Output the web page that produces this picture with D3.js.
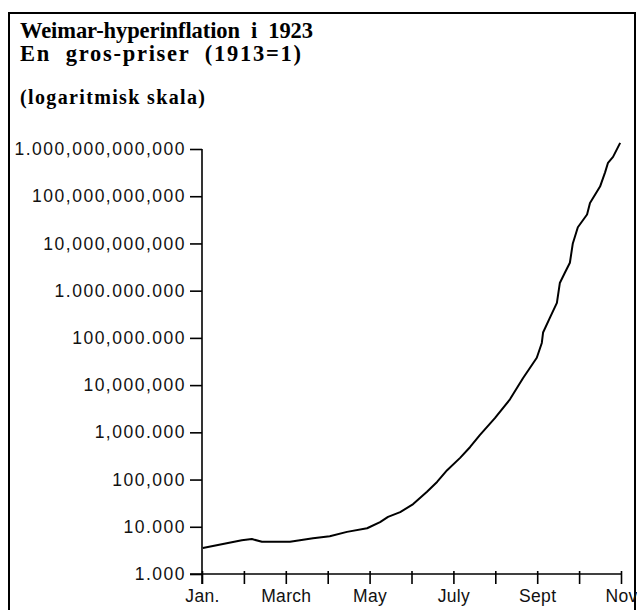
<!DOCTYPE html>
<html><head><meta charset="utf-8">
<script src="https://cdn.jsdelivr.net/npm/d3@7"></script>
<style>
html,body{margin:0;padding:0;background:#fff;}
svg{display:block;}
</style></head>
<body>
<svg id="chart" width="637" height="610"></svg>
<script>
// Data: month position (0 = 1 Jan, 10 = 1 Nov 1923) and wholesale price index (1913 = 1)
const monthPos = [0.02,0.95,1.19,1.43,2.10,2.65,3.05,3.46,3.94,4.25,4.44,4.73,5.04,5.37,5.61,5.85,6.16,6.40,6.63,6.99,7.35,7.66,7.99,8.11,8.14,8.31,8.47,8.54,8.66,8.78,8.85,8.97,9.19,9.26,9.50,9.62,9.69,9.81,9.98];
const priceIndex = [3550,5200,5500,4800,4800,5700,6300,7800,9300,12600,16200,20400,30200,55000,89000,158000,288000,490000,870000,2.0e6,5.0e6,1.4e7,3.8e7,7.8e7,1.3e8,2.75e8,5.5e8,1.45e9,2.4e9,3.9e9,1.0e10,2.2e10,4.1e10,7.2e10,1.6e11,3.2e11,5.1e11,6.8e11,1.35e12];
const monthTicks = [0,1,2,3,4,5,6,7,8,9,10];
const monthLabels = ["Jan.","","March","","May","","July","","Sept","","Nov"];
const yTickValues = [1e3,1e4,1e5,1e6,1e7,1e8,1e9,1e10,1e11,1e12];
const yTickLabels = ["1.000","10.000","100,000","1,000.000","10,000,000","100,000.000","1.000.000.000","10,000,000,000","100,000,000,000","1.000,000,000,000"];
const titleLines = ["Weimar-hyperinflation  i  1923","En  gros-priser  (1913=1)"];
const subTitle = "(logaritmisk skala)";

const svg = d3.select("#chart");

// frame
svg.append("rect").attr("x",9).attr("y",13).attr("width",626).attr("height",610)
  .attr("fill","none").attr("stroke","#000").attr("stroke-width",2);

const serif = "'Liberation Serif','Times New Roman',serif";
// titles
svg.append("text").attr("x",20).attr("y",38).text(titleLines[0])
  .attr("font-family",serif).attr("font-weight","bold").attr("font-size",22.5)
  .attr("textLength",293).attr("lengthAdjust","spacing").style("white-space","pre");
svg.append("text").attr("x",20).attr("y",61).text(titleLines[1])
  .attr("font-family",serif).attr("font-weight","bold").attr("font-size",22.5)
  .attr("textLength",281).attr("lengthAdjust","spacing").style("white-space","pre");
svg.append("text").attr("x",20).attr("y",104).text(subTitle)
  .attr("font-family",serif).attr("font-weight","bold").attr("font-size",20)
  .attr("textLength",185).attr("lengthAdjust","spacing");

const x = d3.scaleLinear().domain([0,10]).range([202,621]);
const y = d3.scaleLog().domain([1e3,1e12]).range([574,149]);

const labelFont = "'Liberation Sans',Arial,sans-serif";

// y axis
const yAxis = d3.axisLeft(y).tickValues(yTickValues)
  .tickFormat((d,i)=>yTickLabels[i]).tickSizeInner(12).tickSizeOuter(0).tickPadding(4);
const gy = svg.append("g").attr("transform","translate(202,0)").call(yAxis);
gy.select(".domain").attr("d","M0,149V584").attr("stroke","#000").attr("stroke-width",1.6);
gy.selectAll(".tick line").attr("stroke","#000").attr("stroke-width",1.6);
gy.selectAll(".tick text").attr("font-family",labelFont).attr("font-size",17.5)
  .attr("letter-spacing","1.5px").attr("fill","#111");

// x axis
const xAxis = d3.axisBottom(x).tickValues(monthTicks)
  .tickFormat((d,i)=>monthLabels[i]).tickSizeInner(10).tickSizeOuter(0).tickPadding(6);
const gx = svg.append("g").attr("transform","translate(0,574)").call(xAxis);
gx.select(".domain").attr("d","M190,0H621").attr("stroke","#000").attr("stroke-width",1.6);
gx.selectAll(".tick line").attr("y1",-3).attr("stroke","#000").attr("stroke-width",1.6);
gx.selectAll(".tick text").attr("font-family",labelFont).attr("font-size",17.5)
  .attr("letter-spacing","0.3px").attr("fill","#111");

// line
const pts = monthPos.map((m,i)=>[m,priceIndex[i]]);
svg.append("path").datum(pts)
  .attr("fill","none").attr("stroke","#000").attr("stroke-width",2)
  .attr("stroke-linejoin","round")
  .attr("d", d3.line().x(d=>x(d[0])).y(d=>y(d[1])));
</script>
</body></html>
